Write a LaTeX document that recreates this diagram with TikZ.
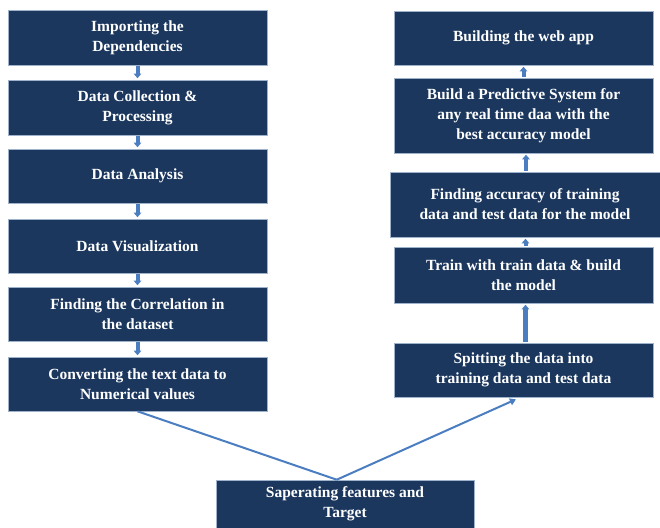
\documentclass[tikz,border=0pt]{standalone}
\usepackage{fontspec}
\setmainfont{Liberation Serif}
\usetikzlibrary{arrows.meta,calc}
\definecolor{navy}{HTML}{1B375E}
\definecolor{arrowblue}{HTML}{4A7EC1}
\definecolor{edge}{HTML}{9FB2CC}
\tikzset{
  stepbox/.style={fill=navy, draw=edge, line width=0.6pt, text=white,
    font=\fontsize{15.5}{20}\selectfont\bfseries, align=center,
    inner sep=0pt, minimum width=259pt},
  flowarrow/.style={draw=arrowblue, line width=4pt,
    -{Triangle[width=7.5pt,length=4.5pt]}},
  longline/.style={draw=arrowblue, line width=2pt},
}
\begin{document}
\begin{tikzpicture}[x=1pt,y=-1pt]
\useasboundingbox (0,0) rectangle (660,527);
\clip (0,0) rectangle (660,527);
% left column
\node[stepbox, minimum height=55pt] (b1) at (137.5,37.5) {Importing the\\Dependencies};
\node[stepbox, minimum height=55pt] (b2) at (137.5,107.5) {Data Collection \& \\Processing};
\node[stepbox, minimum height=54pt] (b3) at (137.5,176) {Data Analysis};
\node[stepbox, minimum height=54pt] (b4) at (137.5,246) {Data Visualization};
\node[stepbox, minimum height=54pt] (b5) at (137.5,314) {Finding the Correlation in\\the dataset};
\node[stepbox, minimum height=54pt] (b6) at (137.5,384) {Converting the text data to\\Numerical values};
% right column
\node[stepbox, minimum height=54pt] (r1) at (523.5,38) {Building the web app};
\node[stepbox, minimum height=75pt] (r2) at (523.5,115.5) {Build a Predictive System for\\any real time daa with the\\best accuracy model};
\node[stepbox, minimum height=65pt, minimum width=270pt] (r3) at (525,204.5) {Finding accuracy of training\\data and test data for the model};
\node[stepbox, minimum height=56pt] (r4) at (523.5,275) {Train with train data \& build\\the model};
\node[stepbox, minimum height=54pt] (r5) at (523.5,370) {Spitting the data into\\training data and test data};
% bottom
\node[stepbox, minimum height=64pt, minimum width=258pt] (sep) at (345,512) {Saperating features and\\Target\\\mbox{}};
\coordinate (apex) at ($(sep.north west)!0.468!(sep.north east)$);
% arrows left
\draw[flowarrow, shorten <=1pt, shorten >=1.5pt] (b1.south) -- (b2.north);
\draw[flowarrow, shorten <=1pt, shorten >=1.5pt] (b2.south) -- (b3.north);
\draw[flowarrow, shorten <=1pt, shorten >=1.5pt] (b3.south) -- (b4.north);
\draw[flowarrow, shorten <=1pt, shorten >=1.5pt] (b4.south) -- (b5.north);
\draw[flowarrow, shorten <=1pt, shorten >=1.5pt] (b5.south) -- (b6.north);
% arrows right
\draw[flowarrow, shorten <=1pt, shorten >=1.5pt] (r2.north) -- (r1.south);
\draw[flowarrow, shorten <=1pt, shorten >=1.5pt] ($(r3.north)+(1,0)$) -- ($(r2.south)+(2.5,0)$);
\draw[flowarrow, shorten <=1pt, shorten >=1.5pt] ($(r4.north)+(2,0)$) -- ($(r3.south)+(0.5,0)$);
\draw[flowarrow, shorten <=1pt, shorten >=1.5pt, line width=5pt] ($(r5.north)+(2,0)$) -- ($(r4.south)+(2,0)$);
% long connectors
\draw[longline] (b6.south) -- (apex);
\draw[longline, -{Triangle[width=7pt,length=6pt]}, shorten >=5pt] (apex) -- ($(r5.south)+(-3,0)$);
\end{tikzpicture}
\end{document}
